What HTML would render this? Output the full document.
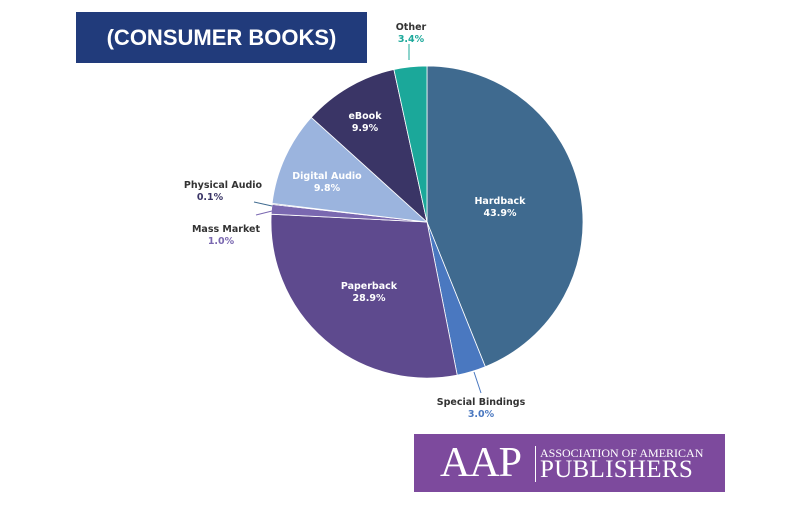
<!DOCTYPE html>
<html><head><meta charset="utf-8"><style>
html,body{margin:0;padding:0;background:#fff;}
body{width:798px;height:524px;overflow:hidden;position:relative;font-family:"DejaVu Sans","Liberation Sans",sans-serif;}
</style></head><body>
<div style="position:absolute;left:76px;top:12px;width:291px;height:51px;background:#213b7b;color:#fff;font-family:'Liberation Sans',sans-serif;font-weight:bold;font-size:22px;line-height:51px;text-align:center;">(CONSUMER BOOKS)</div>
<svg width="798" height="524" style="position:absolute;left:0;top:0" font-family="DejaVu Sans, Liberation Sans, sans-serif" font-weight="bold" font-size="9.5">
<g stroke="#fff" stroke-width="0.8">
<path d="M427,222 L427,66 A156,156 0 0 1 485.3,366.7 Z" fill="#3f6a8f"/>
<path d="M427,222 L485.3,366.7 A156,156 0 0 1 457.2,375.1 Z" fill="#4a78c0"/>
<path d="M427,222 L457.2,375.1 A156,156 0 0 1 271.2,214.2 Z" fill="#5e4a8e"/>
<path d="M427,222 L271.2,214.2 A156,156 0 0 1 272.0,204.4 Z" fill="#7a68b0"/>
<path d="M427,222 L272.0,204.4 A156,156 0 0 1 272.1,203.4 Z" fill="#2f4a6a"/>
<path d="M427,222 L272.1,203.4 A156,156 0 0 1 311.3,117.4 Z" fill="#9bb4de"/>
<path d="M427,222 L311.3,117.4 A156,156 0 0 1 393.9,69.5 Z" fill="#3a3566"/>
<path d="M427,222 L393.9,69.5 A156,156 0 0 1 427,66 Z" fill="#1ba89a"/>
</g>
<g stroke-width="1">
<line x1="409" y1="44" x2="409" y2="60" stroke="#1ba89a"/>
<line x1="254" y1="202" x2="272" y2="206" stroke="#3f6a8f"/>
<line x1="256" y1="215" x2="272" y2="211" stroke="#7a68b0"/>
<line x1="474" y1="372" x2="481" y2="393" stroke="#4a78c0"/>
</g>
<g text-anchor="middle" fill="#fff">
<text x="500" y="204">Hardback</text><text x="500" y="216">43.9%</text>
<text x="369" y="289">Paperback</text><text x="369" y="301">28.9%</text>
<text x="327" y="179">Digital Audio</text><text x="327" y="191">9.8%</text>
<text x="365" y="119">eBook</text><text x="365" y="131">9.9%</text>
</g>
<g text-anchor="middle">
<text x="411" y="30" fill="#333">Other</text><text x="411" y="42" fill="#1ba89a">3.4%</text>
<text x="481" y="405" fill="#333">Special Bindings</text><text x="481" y="417" fill="#4a78c0">3.0%</text>
<text x="223" y="188" fill="#333">Physical Audio</text><text x="210" y="200" fill="#3a3566">0.1%</text>
<text x="226" y="232" fill="#333">Mass Market</text><text x="221" y="244" fill="#7a68b0">1.0%</text>
</g>
</svg>
<div style="position:absolute;left:414px;top:434px;width:311px;height:58px;background:#7d4a9d;color:#fff;font-family:'Liberation Serif',serif;">
<div style="position:absolute;left:26px;top:6px;font-size:42px;line-height:46px;letter-spacing:-1px;">AAP</div>
<div style="position:absolute;left:121px;top:12px;width:1px;height:36px;background:#fff;"></div>
<div style="position:absolute;left:126px;top:12px;font-size:12px;line-height:14px;">ASSOCIATION OF AMERICAN</div>
<div style="position:absolute;left:126px;top:23px;font-size:25px;line-height:26px;letter-spacing:0.3px;">PUBLISHERS</div>
</div>
</body></html>
